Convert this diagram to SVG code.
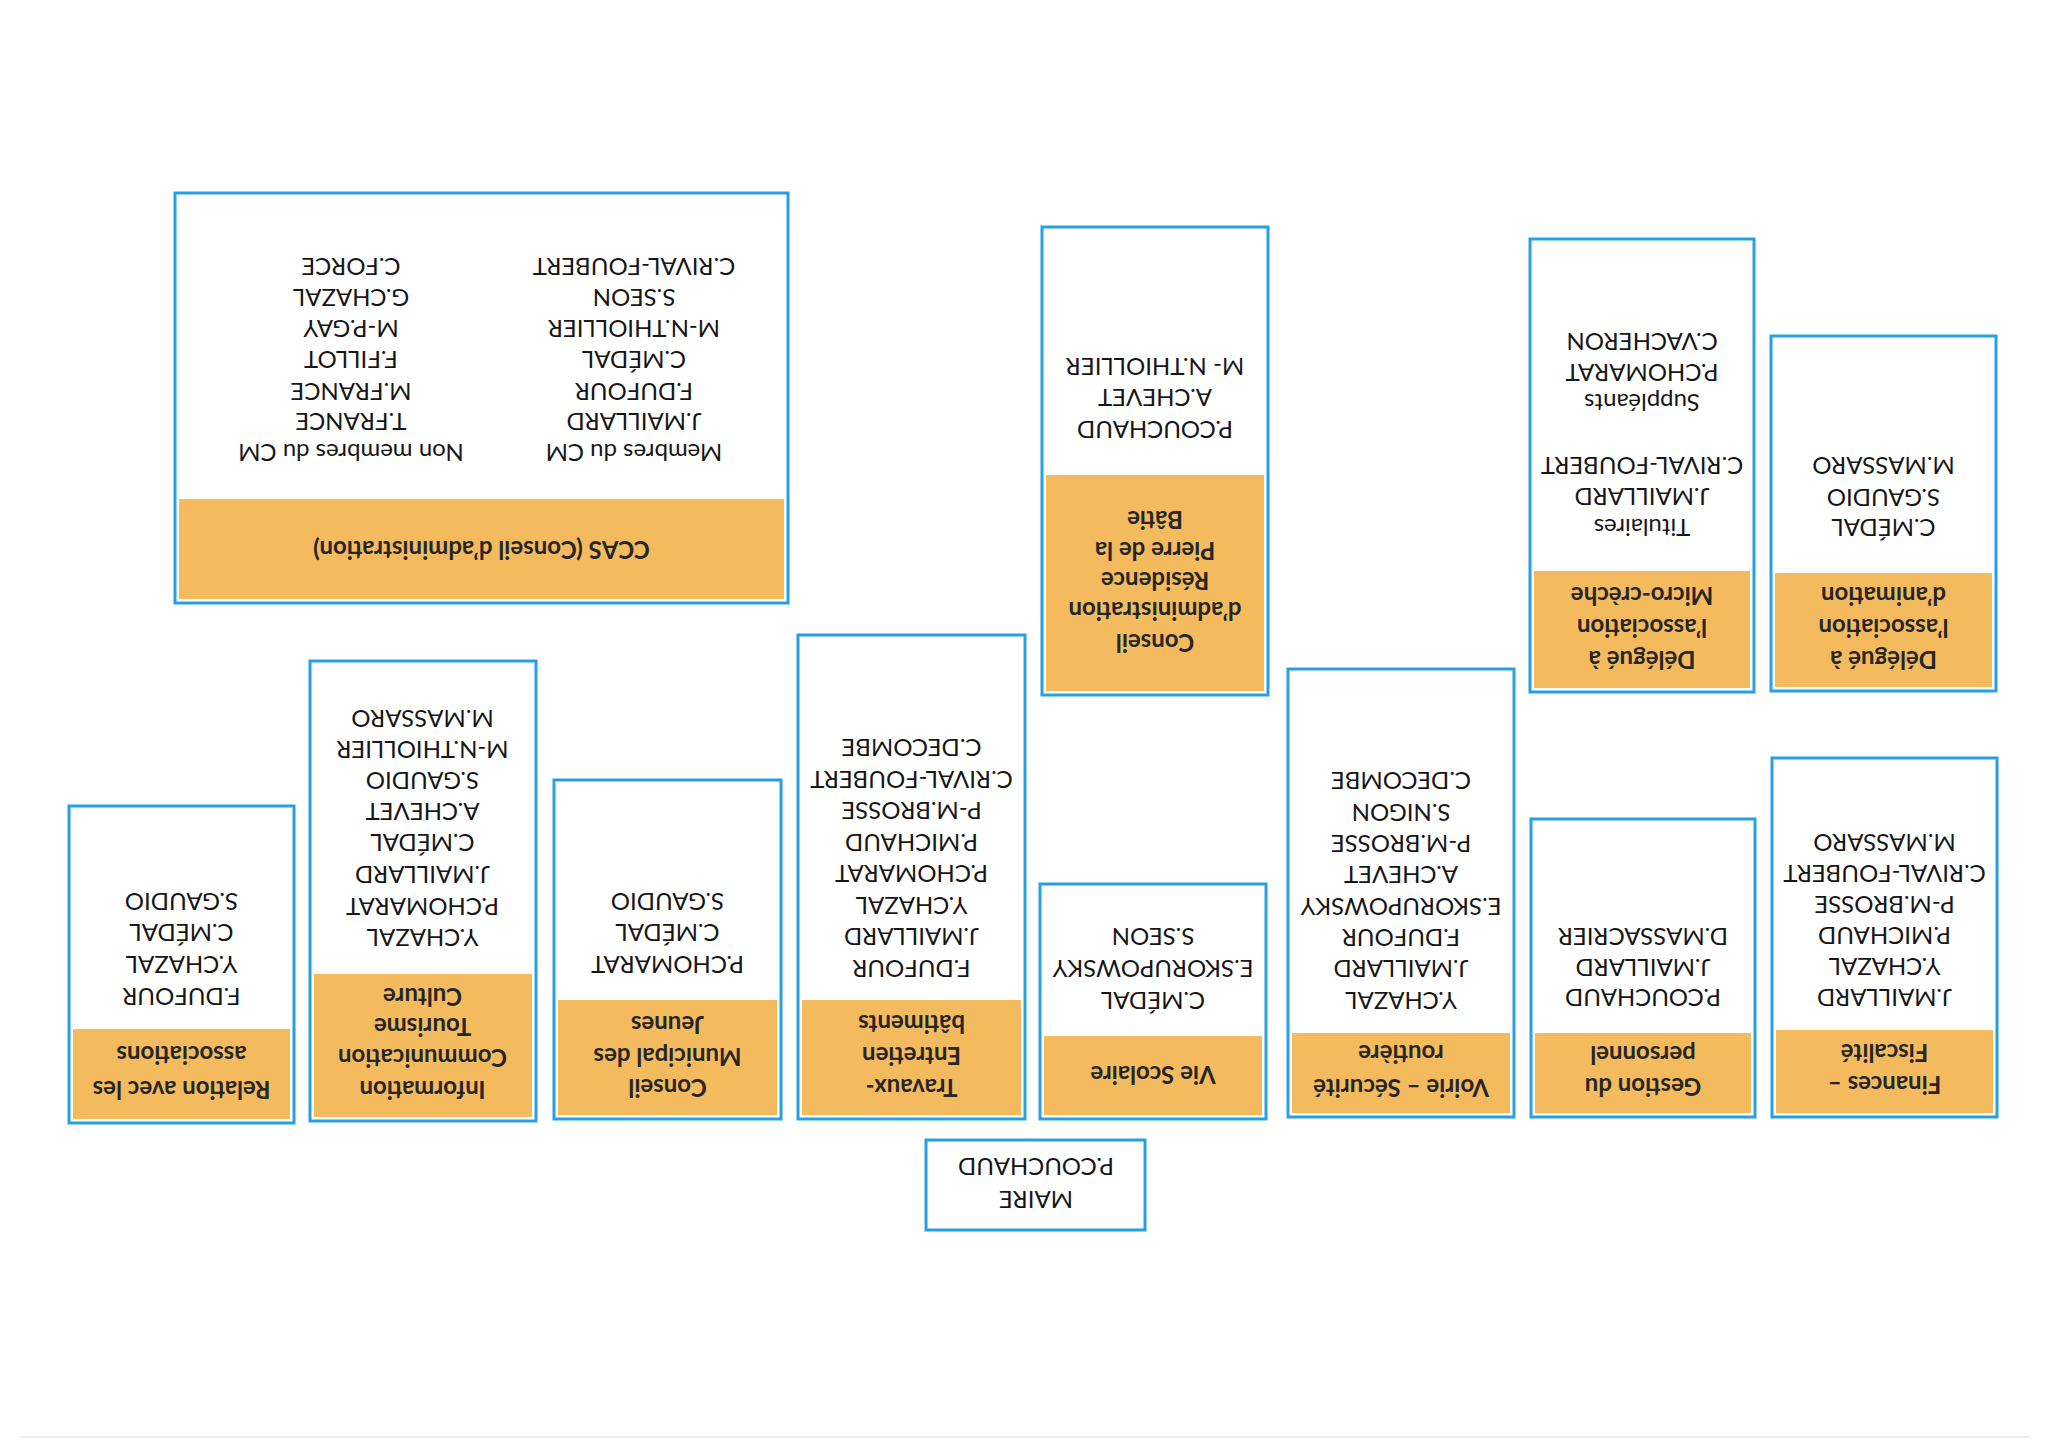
<svg xmlns="http://www.w3.org/2000/svg" width="2048" height="1448" viewBox="0 0 2048 1448">
<style>
.box{fill:#ffffff;stroke:#27a0e3;stroke-width:3}
.band{fill:#f4bb5e}
text{font-family:Lato,"Open Sans","Liberation Sans",sans-serif;text-anchor:middle;dominant-baseline:central}
.h{font-size:24px;font-weight:bold;fill:#262626}
.n{font-size:24px;fill:#161616}
</style>
<rect x="0" y="0" width="2048" height="1448" fill="#ffffff"/>
<line x1="20" y1="1437" x2="2030" y2="1437" stroke="#ededed" stroke-width="2"/>
<g id="diagram" transform="rotate(180 1024 724)">
<g id="connectors"></g>
<g id="maire">
<rect class="box" x="903" y="218" width="219" height="90"/>
<text class="n" x="1012" y="248">MAIRE</text>
<text class="n" x="1012" y="281">P.COUCHAUD</text>
</g>
<g id="relation-associations">
<rect class="box" x="1754" y="325" width="225" height="317"/>
<rect class="band" x="1758" y="329" width="217" height="90"/>
<text class="h" x="1866.5" y="358">Relation avec les</text>
<text class="h" x="1866.5" y="393">associations</text>
<text class="n" x="1866.5" y="451">F.DUFOUR</text>
<text class="n" x="1866.5" y="483">Y.CHAZAL</text>
<text class="n" x="1866.5" y="515">C.MÉDAL</text>
<text class="n" x="1866.5" y="546">S.GAUDIO</text>
</g>
<g id="information-communication">
<rect class="box" x="1512" y="327" width="226" height="460"/>
<rect class="band" x="1516" y="331" width="218" height="143"/>
<text class="h" x="1625.5" y="358">Information</text>
<text class="h" x="1625.5" y="390">Communication</text>
<text class="h" x="1625.5" y="421">Tourisme</text>
<text class="h" x="1625.5" y="451">Culture</text>
<text class="n" x="1625.5" y="510">Y.CHAZAL</text>
<text class="n" x="1625.5" y="541">P.CHOMARAT</text>
<text class="n" x="1625.5" y="573">J.MAILLARD</text>
<text class="n" x="1625.5" y="605">C.MÉDAL</text>
<text class="n" x="1625.5" y="636">A.CHEVET</text>
<text class="n" x="1625.5" y="667">S.GAUDIO</text>
<text class="n" x="1625.5" y="698">M-N.THIOLLIER</text>
<text class="n" x="1625.5" y="729">M.MASSARO</text>
</g>
<g id="conseil-jeunes">
<rect class="box" x="1267" y="329" width="227" height="339"/>
<rect class="band" x="1271" y="333" width="219" height="115"/>
<text class="h" x="1380.5" y="360">Conseil</text>
<text class="h" x="1380.5" y="391">Municipal des</text>
<text class="h" x="1380.5" y="423">Jeunes</text>
<text class="n" x="1380.5" y="483">P.CHOMARAT</text>
<text class="n" x="1380.5" y="515">C.MÉDAL</text>
<text class="n" x="1380.5" y="546">S.GAUDIO</text>
</g>
<g id="travaux">
<rect class="box" x="1023" y="329" width="227" height="484"/>
<rect class="band" x="1027" y="333" width="219" height="115"/>
<text class="h" x="1136.5" y="360">Travaux-</text>
<text class="h" x="1136.5" y="392">Entretien</text>
<text class="h" x="1136.5" y="424">bâtiments</text>
<text class="n" x="1136.5" y="479">F.DUFOUR</text>
<text class="n" x="1136.5" y="510.5">J.MAILLARD</text>
<text class="n" x="1136.5" y="542">Y.CHAZAL</text>
<text class="n" x="1136.5" y="573.5">P.CHOMARAT</text>
<text class="n" x="1136.5" y="605">P.MICHAUD</text>
<text class="n" x="1136.5" y="636.5">P-M.BROSSE</text>
<text class="n" x="1136.5" y="668">C.RIVAL-FOUBERT</text>
<text class="n" x="1136.5" y="699.5">C.DECOMBE</text>
</g>
<g id="vie-scolaire">
<rect class="box" x="782" y="329" width="226" height="235"/>
<rect class="band" x="786" y="333" width="218" height="79"/>
<text class="h" x="895" y="373">Vie Scolaire</text>
<text class="n" x="895" y="447">C.MÉDAL</text>
<text class="n" x="895" y="479">E.SKORUPOWSKY</text>
<text class="n" x="895" y="511">S.SEON</text>
</g>
<g id="voirie">
<rect class="box" x="534" y="331" width="226" height="448"/>
<rect class="band" x="538" y="335" width="218" height="80"/>
<text class="h" x="647" y="360">Voirie – Sécurité</text>
<text class="h" x="647" y="394">routière</text>
<text class="n" x="647" y="447">Y.CHAZAL</text>
<text class="n" x="647" y="478.3">J.MAILLARD</text>
<text class="n" x="647" y="509.6">F.DUFOUR</text>
<text class="n" x="647" y="540.9">E.SKORUPOWSKY</text>
<text class="n" x="647" y="572.2">A.CHEVET</text>
<text class="n" x="647" y="603.5">P-M.BROSSE</text>
<text class="n" x="647" y="634.8">S.NIGON</text>
<text class="n" x="647" y="666.1">C.DECOMBE</text>
</g>
<g id="gestion-personnel">
<rect class="box" x="293" y="331" width="224" height="298"/>
<rect class="band" x="297" y="335" width="216" height="80"/>
<text class="h" x="405" y="361">Gestion du</text>
<text class="h" x="405" y="393">personnel</text>
<text class="n" x="405" y="450">P.COUCHAUD</text>
<text class="n" x="405" y="480">J.MAILLARD</text>
<text class="n" x="405" y="511">D.MASSACRIER</text>
</g>
<g id="finances">
<rect class="box" x="51" y="331" width="225" height="359"/>
<rect class="band" x="55" y="335" width="217" height="83"/>
<text class="h" x="163.5" y="363">Finances –</text>
<text class="h" x="163.5" y="395">Fiscalité</text>
<text class="n" x="163.5" y="450">J.MAILLARD</text>
<text class="n" x="163.5" y="481">Y.CHAZAL</text>
<text class="n" x="163.5" y="512">P.MICHAUD</text>
<text class="n" x="163.5" y="543">P-M.BROSSE</text>
<text class="n" x="163.5" y="574">C.RIVAL-FOUBERT</text>
<text class="n" x="163.5" y="605">M.MASSARO</text>
</g>
<g id="ccas">
<rect class="box" x="1260" y="845" width="613" height="410"/>
<rect class="band" x="1264" y="849" width="605" height="100"/>
<text class="h" x="1566.5" y="898">CCAS (Conseil d’administration)</text>
<text class="n" x="1414" y="995">Membres du CM</text>
<text class="n" x="1414" y="1026">J.MAILLARD</text>
<text class="n" x="1414" y="1056">F.DUFOUR</text>
<text class="n" x="1414" y="1088">C.MÉDAL</text>
<text class="n" x="1414" y="1119">M-N.THIOLLIER</text>
<text class="n" x="1414" y="1150">S.SEON</text>
<text class="n" x="1414" y="1181">C.RIVAL-FOUBERT</text>
<text class="n" x="1697" y="995">Non membres du CM</text>
<text class="n" x="1697" y="1026">T.FRANCE</text>
<text class="n" x="1697" y="1056">M.FRANCE</text>
<text class="n" x="1697" y="1088">F.FILLOT</text>
<text class="n" x="1697" y="1119">M-P.GAY</text>
<text class="n" x="1697" y="1150">G.CHAZAL</text>
<text class="n" x="1697" y="1181">C.FORCE</text>
</g>
<g id="residence-pierre-batie">
<rect class="box" x="780" y="753" width="226" height="468"/>
<rect class="band" x="784" y="757" width="218" height="216"/>
<text class="h" x="893" y="805">Conseil</text>
<text class="h" x="893" y="837">d’administration</text>
<text class="h" x="893" y="867">Résidence</text>
<text class="h" x="893" y="897">Pierre de la</text>
<text class="h" x="893" y="928">Bâtie</text>
<text class="n" x="893" y="1018">P.COUCHAUD</text>
<text class="n" x="893" y="1050">A.CHEVET</text>
<text class="n" x="893" y="1081">M- N.THIOLLIER</text>
</g>
<g id="micro-creche">
<rect class="box" x="294" y="756" width="224" height="453"/>
<rect class="band" x="298" y="760" width="216" height="117"/>
<text class="h" x="406" y="788">Délégué à</text>
<text class="h" x="406" y="820">l’association</text>
<text class="h" x="406" y="852">Micro-crèche</text>
<text class="n" x="406" y="920">Titulaires</text>
<text class="n" x="406" y="951">J.MAILLARD</text>
<text class="n" x="406" y="982">C.RIVAL-FOUBERT</text>
<text class="n" x="406" y="1045">Suppléants</text>
<text class="n" x="406" y="1075">P.CHOMARAT</text>
<text class="n" x="406" y="1106">C.VACHERON</text>
</g>
<g id="association-animation">
<rect class="box" x="52" y="757" width="225" height="355"/>
<rect class="band" x="56" y="761" width="217" height="114"/>
<text class="h" x="164.5" y="788">Délégué à</text>
<text class="h" x="164.5" y="820">l’association</text>
<text class="h" x="164.5" y="852">d’animation</text>
<text class="n" x="164.5" y="920">C.MÉDAL</text>
<text class="n" x="164.5" y="950">S.GAUDIO</text>
<text class="n" x="164.5" y="982">M.MASSARO</text>
</g>
</g>
</svg>
